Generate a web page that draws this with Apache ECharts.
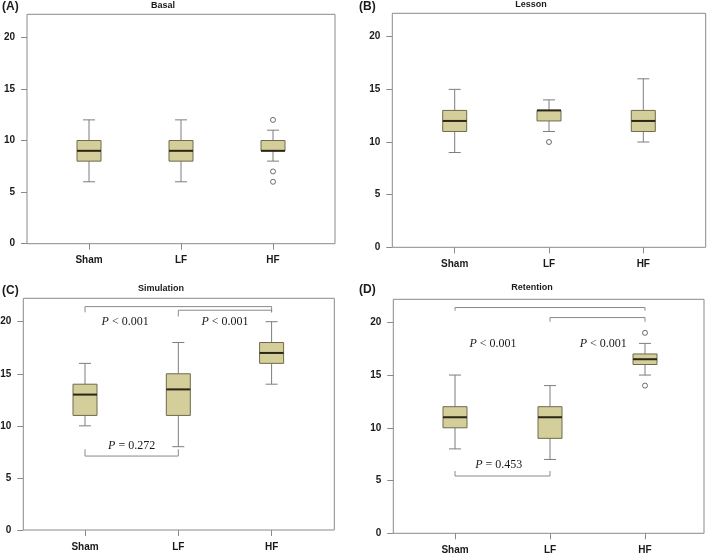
<!DOCTYPE html>
<html>
<head>
<meta charset="utf-8">
<script src="https://cdn.jsdelivr.net/npm/echarts@6/dist/echarts.min.js"></script>
<style>
html, body { margin: 0; padding: 0; background: #fff; }
#main { width: 709px; height: 554px; }
</style>
</head>
<body>
<div id="main"></div>
<script>
var groups = ['Sham', 'LF', 'HF'];
var yTicks = [0, 5, 10, 15, 20];

// box rows: [min, Q1, median, Q3, max] for Sham, LF, HF
var basalBox = [[6, 8, 9, 10, 12], [6, 8, 9, 10, 12], [8, 9, 9, 10, 11]];
var basalOut = [[2, 12], [2, 7], [2, 6]];
var lessonBox = [[9, 11, 12, 13, 15], [11, 12, 13, 13, 14], [10, 11, 12, 13, 16]];
var lessonOut = [[1, 10]];
var simBox = [[10, 11, 13, 14, 16], [8, 11, 13.5, 15, 18], [14, 16, 17, 18, 20]];
var simOut = [];
var retBox = [[8, 10, 11, 12, 15], [7, 9, 11, 12, 14], [15, 16, 16.5, 17, 18]];
var retOut = [[2, 19], [2, 14]];

// brackets: [from group, to group, bar y, end y at from, end y at to]
var simBrackets = [[0, 2, 21.45, 20.9, 20.9], [1, 2, 21.1, 20.5, 20.9], [0, 1, 7.1, 7.75, 7.75]];
var retBrackets = [[0, 2, 21.4, 21.1, 21.1], [1, 2, 20.45, 20.05, 20.05], [0, 1, 5.43, 5.9, 5.9]];
// p-value labels: [x (group units), y, text]
var simPvals = [[0.43, 20.0, 'P < 0.001'], [1.5, 20.0, 'P < 0.001'], [0.5, 8.1, 'P = 0.272']];
var retPvals = [[0.40, 18.0, 'P < 0.001'], [1.56, 18.0, 'P < 0.001'], [0.46, 6.47, 'P = 0.453']];

var panels = [
  { tag: '(A)', title: 'Basal', box: basalBox, out: basalOut, br: [], pv: [],
    frame: [27, 14.3, 335, 243.7], y20: 37.3, cat0: 89, step: 92, titleX: 163, titleY: 5.5, tagX: 2, tagY: 7 },
  { tag: '(B)', title: 'Lesson', box: lessonBox, out: lessonOut, br: [], pv: [],
    frame: [392.3, 13.3, 705.7, 247.3], y20: 36.7, cat0: 454.7, step: 94.3, titleX: 531, titleY: 4.5, tagX: 359, tagY: 7 },
  { tag: '(C)', title: 'Simulation', box: simBox, out: simOut, br: simBrackets, pv: simPvals,
    frame: [23.3, 298.3, 334.3, 530], y20: 321.7, cat0: 85, step: 93.3, titleX: 161, titleY: 288.5, tagX: 2, tagY: 291 },
  { tag: '(D)', title: 'Retention', box: retBox, out: retOut, br: retBrackets, pv: retPvals,
    frame: [393.3, 299.3, 704, 533.3], y20: 322.3, cat0: 455, step: 95, titleX: 532, titleY: 288, tagX: 359, tagY: 290 }
];

var sans = '"Liberation Sans", Arial, sans-serif';
var serif = '"Liberation Serif", "Times New Roman", serif';
var gray = '#8a8a8a';

var option = { animation: false, grid: [], xAxis: [], yAxis: [], series: [], graphic: [] };

panels.forEach(function (p) {
  var L = p.frame[0], T = p.frame[1], R = p.frame[2], B = p.frame[3];
  var innerL = p.cat0 - p.step / 2;
  var g = option.grid.length;
  option.grid.push({ left: innerL, top: p.y20, width: p.step * 3, height: B - p.y20,
    containLabel: false, outerBoundsMode: 'none' });
  option.grid.push({ left: L, top: T, width: R - L, height: B - T, show: true,
    borderColor: gray, borderWidth: 1, backgroundColor: 'transparent', outerBoundsMode: 'none' });

  var xa = option.xAxis.length;
  option.xAxis.push({
    type: 'category', gridIndex: g, data: groups, boundaryGap: true, position: 'bottom',
    axisLine: { show: false, onZero: false },
    axisTick: { show: true, alignWithLabel: true, length: 6, lineStyle: { color: gray } },
    axisLabel: { margin: 12, color: '#1a1a1a', fontFamily: sans, fontWeight: 'bold', fontSize: 10 },
    splitLine: { show: false }
  });
  option.xAxis.push({ type: 'value', gridIndex: g, min: -0.5, max: 2.5, show: false,
    axisLine: { onZero: false } });

  var ya = option.yAxis.length;
  option.yAxis.push({
    type: 'value', gridIndex: g, min: yTicks[0], max: yTicks[yTicks.length - 1],
    interval: yTicks[1] - yTicks[0], offset: innerL - L, position: 'left',
    axisLine: { show: false, onZero: false },
    axisTick: { show: true, length: 6, lineStyle: { color: gray } },
    axisLabel: { margin: 12, color: '#1a1a1a', fontFamily: sans, fontWeight: 'bold', fontSize: 10 },
    splitLine: { show: false }
  });

  // boxes
  option.series.push({
    type: 'custom', xAxisIndex: xa + 1, yAxisIndex: ya, z: 3, clip: false,
    data: p.box.map(function (b, k) { return [k].concat(b); }),
    encode: { x: 0, y: [1, 2, 3, 4, 5] },
    renderItem: function (params, api) {
      var x = api.value(0);
      var pts = [1, 2, 3, 4, 5].map(function (d) { return api.coord([x, api.value(d)]); });
      var cx = pts[0][0];
      var ws = { stroke: '#7d7d7d', lineWidth: 1 };
      return { type: 'group', children: [
        { type: 'line', shape: { x1: cx, y1: pts[4][1], x2: cx, y2: pts[3][1] }, style: ws },
        { type: 'line', shape: { x1: cx, y1: pts[0][1], x2: cx, y2: pts[1][1] }, style: ws },
        { type: 'line', shape: { x1: cx - 6, y1: pts[4][1], x2: cx + 6, y2: pts[4][1] }, style: ws },
        { type: 'line', shape: { x1: cx - 6, y1: pts[0][1], x2: cx + 6, y2: pts[0][1] }, style: ws },
        { type: 'rect', shape: { x: cx - 12, y: pts[3][1], width: 24, height: pts[1][1] - pts[3][1] },
          style: { fill: '#d4ce9a', stroke: '#6f6a4c', lineWidth: 1 } },
        { type: 'line', shape: { x1: cx - 12, y1: pts[2][1], x2: cx + 12, y2: pts[2][1] },
          style: { stroke: '#2a2616', lineWidth: 2 } }
      ] };
    }
  });

  // outliers
  if (p.out.length) {
    option.series.push({
      type: 'scatter', xAxisIndex: xa, yAxisIndex: ya, z: 4, data: p.out,
      symbol: 'circle', symbolSize: 5,
      itemStyle: { color: '#fff', borderColor: '#4a4a4a', borderWidth: 1 }
    });
  }

  // significance brackets
  if (p.br.length) {
    option.series.push({
      type: 'custom', xAxisIndex: xa + 1, yAxisIndex: ya, z: 2, clip: false,
      data: p.br, encode: { x: [0, 1], y: [2, 3, 4] },
      renderItem: function (params, api) {
        var a = api.value(0), b = api.value(1), y = api.value(2);
        return { type: 'polyline', shape: { points: [
          api.coord([a, api.value(3)]), api.coord([a, y]), api.coord([b, y]), api.coord([b, api.value(4)])
        ] }, style: { stroke: gray, lineWidth: 1, fill: null } };
      }
    });
  }

  // p-value labels
  if (p.pv.length) {
    var pv = p.pv;
    option.series.push({
      type: 'custom', xAxisIndex: xa + 1, yAxisIndex: ya, z: 5, clip: false,
      data: pv.map(function (r) { return [r[0], r[1]]; }), encode: { x: 0, y: 1 },
      renderItem: function (params, api) {
        var pt = api.coord([api.value(0), api.value(1)]);
        var txt = pv[params.dataIndex][2].replace(/^P/, '{i|P}');
        return { type: 'text', x: pt[0], y: pt[1], style: {
          text: txt, align: 'center', verticalAlign: 'middle',
          fontFamily: serif, fontSize: 12, fill: '#1a1a1a',
          rich: { i: { fontStyle: 'italic', fontFamily: serif, fontSize: 12, fill: '#1a1a1a' } }
        } };
      }
    });
  }

  option.graphic.push({ type: 'text', x: p.titleX, y: p.titleY, style: {
    text: p.title, align: 'center', verticalAlign: 'middle',
    font: 'bold 9px ' + sans, fill: '#1a1a1a' } });
  option.graphic.push({ type: 'text', x: p.tagX, y: p.tagY, style: {
    text: p.tag, align: 'left', verticalAlign: 'middle',
    font: 'bold 12px ' + sans, fill: '#1a1a1a' } });
});

var chart = echarts.init(document.getElementById('main'));
chart.setOption(option);
</script>
</body>
</html>
